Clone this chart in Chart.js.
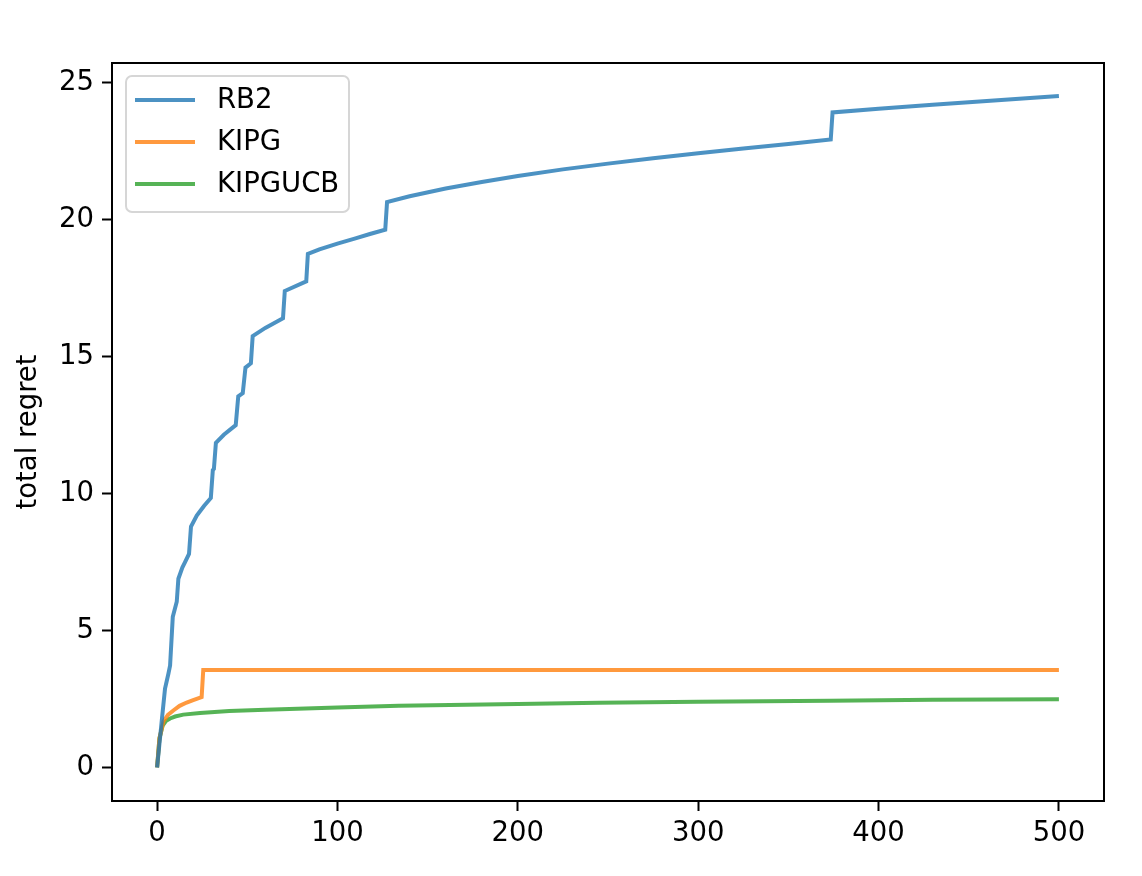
<!DOCTYPE html>
<html>
<head>
<meta charset="utf-8">
<script src="https://cdn.jsdelivr.net/npm/chart.js@4.4.1/dist/chart.umd.min.js"></script>
<style>
  html, body { margin: 0; padding: 0; background: #fff; }
  canvas { display: block; }
</style>
</head>
<body>
<canvas id="myChart" width="1142" height="876"></canvas>
<script>
// values
const rb2X = [0, 2.6, 4.4, 6.3, 7.2, 8.7, 10.9, 11.8, 14, 15.5, 17.7, 18.8, 22, 26, 29.8, 30.9, 31.5, 32.6, 37, 43.6, 45, 47.5, 49, 52, 53, 60, 69.8, 70.8, 82.7, 83.6, 90, 100, 110, 118, 126.5, 127.5, 140, 160, 180, 200, 225, 250, 275, 300, 325, 350, 373.5, 374.5, 400, 430, 460, 500];
const rb2Y = [0, 1.72, 2.88, 3.43, 3.72, 5.5, 6.05, 6.89, 7.3, 7.5, 7.8, 8.8, 9.2, 9.55, 9.84, 10.86, 10.9, 11.85, 12.15, 12.5, 13.55, 13.67, 14.6, 14.76, 15.75, 16.05, 16.4, 17.4, 17.75, 18.75, 18.92, 19.13, 19.32, 19.48, 19.64, 20.65, 20.86, 21.14, 21.38, 21.6, 21.84, 22.05, 22.25, 22.43, 22.6, 22.77, 22.93, 23.92, 24.05, 24.2, 24.34, 24.52];

const kipgX = [0, 1.3, 3.5, 6, 9, 12.5, 16.4, 20, 24.7, 25.6, 500];
const kipgY = [0, 1.06, 1.68, 1.92, 2.08, 2.25, 2.37, 2.46, 2.57, 3.56, 3.56];

const kipgucbX = [0, 1.3, 3.1, 5, 7.2, 10, 14.5, 23.8, 40, 60, 100, 134, 200, 245, 300, 373, 430, 500];
const kipgucbY = [0, 1.06, 1.53, 1.7, 1.79, 1.86, 1.93, 1.99, 2.06, 2.11, 2.19, 2.25, 2.32, 2.36, 2.40, 2.44, 2.47, 2.49];

const seriesNames = ['RB2', 'KIPG', 'KIPGUCB'];
const seriesColors = ['rgba(31,119,180,0.8)', 'rgba(255,127,14,0.8)', 'rgba(44,160,44,0.8)'];

const xTicks = [0, 100, 200, 300, 400, 500];
const yTicks = [0, 5, 10, 15, 20, 25];

const FONT = 'DejaVu Sans';
const FS = 27.5;

function pts(xs, ys) { return xs.map((x, i) => ({ x: x, y: ys[i] })); }

const frame = {
  id: 'frame',
  afterDraw(chart) {
    const { ctx, chartArea: a } = chart;
    ctx.save();
    ctx.strokeStyle = '#000';
    ctx.lineWidth = 2;
    ctx.strokeRect(a.left, a.top, a.right - a.left, a.bottom - a.top);
    ctx.restore();
  }
};

// matplotlib style legend drawn inside the plot area
const innerLegend = {
  id: 'innerLegend',
  afterDraw(chart) {
    const { ctx, chartArea: a } = chart;
    const bx = a.left + 14, by = a.top + 13, bw = 223, bh = 136;
    ctx.save();
    ctx.beginPath();
    ctx.roundRect(bx, by, bw, bh, 6);
    ctx.fillStyle = 'rgba(255,255,255,0.8)';
    ctx.fill();
    ctx.strokeStyle = '#d6d6d6';
    ctx.lineWidth = 2;
    ctx.stroke();
    ctx.font = FS + 'px "' + FONT + '"';
    ctx.textBaseline = 'middle';
    ctx.fillStyle = '#000';
    chart.data.datasets.forEach((ds, i) => {
      const y = by + 24 + i * 42;
      ctx.beginPath();
      ctx.moveTo(bx + 9, y);
      ctx.lineTo(bx + 69, y);
      ctx.strokeStyle = ds.borderColor;
      ctx.lineWidth = 4;
      ctx.stroke();
      ctx.fillText(ds.label, bx + 91, y + 1);
    });
    ctx.restore();
  }
};

const ctx = document.getElementById('myChart').getContext('2d');
const myChart = new Chart(ctx, {
  type: 'line',
  data: {
    datasets: [
      { label: seriesNames[0], data: pts(rb2X, rb2Y), borderColor: seriesColors[0] },
      { label: seriesNames[1], data: pts(kipgX, kipgY), borderColor: seriesColors[1] },
      { label: seriesNames[2], data: pts(kipgucbX, kipgucbY), borderColor: seriesColors[2] }
    ]
  },
  options: {
    responsive: false,
    animation: false,
    devicePixelRatio: 1,
    layout: { padding: { top: 63, right: 38, left: 0, bottom: 0 } },
    elements: {
      point: { radius: 0 },
      line: { borderWidth: 4, tension: 0, fill: false, borderJoinStyle: 'miter', borderCapStyle: 'butt' }
    },
    plugins: {
      legend: { display: false },
      tooltip: { enabled: false }
    },
    scales: {
      x: {
        type: 'linear',
        min: -25,
        max: 525,
        afterBuildTicks: s => { s.ticks = xTicks.map(v => ({ value: v })); },
        afterFit: s => { s.height = 75; },
        grid: { drawOnChartArea: false, drawTicks: true, tickLength: 10, tickColor: '#000', tickWidth: 2 },
        border: { display: true, color: '#000', width: 2 },
        ticks: { color: '#000', padding: 6, maxRotation: 0, font: { family: FONT, size: FS } }
      },
      y: {
        type: 'linear',
        min: -1.225,
        max: 25.725,
        afterBuildTicks: s => { s.ticks = yTicks.map(v => ({ value: v })); },
        afterFit: s => { s.width = 112; },
        grid: { drawOnChartArea: false, drawTicks: true, tickLength: 10, tickColor: '#000', tickWidth: 2 },
        border: { display: true, color: '#000', width: 2 },
        ticks: { color: '#000', padding: 8, font: { family: FONT, size: FS } },
        title: { display: true, text: 'total regret', color: '#000', padding: { top: 12, bottom: 0 }, font: { family: FONT, size: FS } }
      }
    }
  },
  plugins: [frame, innerLegend]
});
</script>
</body>
</html>
